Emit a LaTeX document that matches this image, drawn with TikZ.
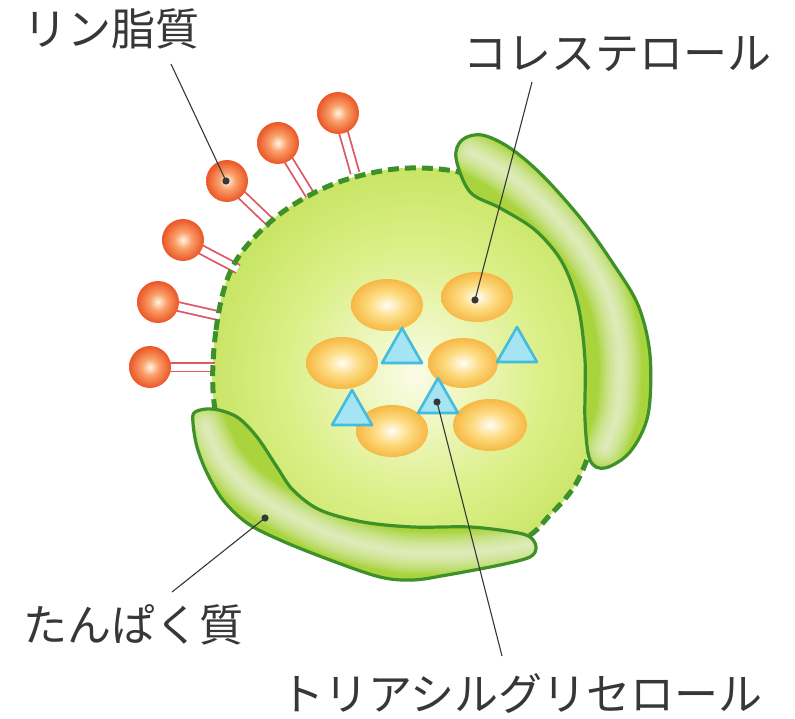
\documentclass[tikz,border=0pt]{standalone}
\usepackage{fontspec}
\newfontfamily\jpfont{Noto Sans CJK JP}

\definecolor{bodyA}{RGB}{250,252,230}
\definecolor{bodyB}{RGB}{220,239,135}
\definecolor{bodyC}{RGB}{178,218,64}
\definecolor{bodyD}{RGB}{163,207,50}
\definecolor{rim}{RGB}{62,145,40}
\definecolor{protfill}{RGB}{170,212,62}
\definecolor{dropA}{RGB}{255,253,245}
\definecolor{dropB}{RGB}{253,220,130}
\definecolor{dropC}{RGB}{244,170,44}
\definecolor{dropD}{RGB}{240,162,40}
\definecolor{ballA}{RGB}{255,246,230}
\definecolor{ballB}{RGB}{250,160,105}
\definecolor{ballC}{RGB}{236,90,42}
\definecolor{ballD}{RGB}{226,72,32}
\definecolor{tailred}{RGB}{222,88,100}
\definecolor{trifill}{RGB}{165,228,242}
\definecolor{triedge}{RGB}{70,188,220}
\definecolor{ink}{RGB}{55,55,55}

\pgfdeclareradialshading{bodyglow}{\pgfpoint{0bp}{0bp}}{color(0bp)=(bodyA); color(14bp)=(bodyB); color(32bp)=(bodyC); color(50bp)=(bodyD)}
\pgfdeclareradialshading{dropglow}{\pgfpoint{0bp}{0bp}}{color(0bp)=(dropA); color(12bp)=(dropB); color(30bp)=(dropC); color(50bp)=(dropD)}
\pgfdeclareradialshading{ballglow}{\pgfpoint{0bp}{0bp}}{color(0bp)=(ballA); color(10bp)=(ballB); color(24bp)=(ballC); color(50bp)=(ballD)}

% outlines of the particle core and the two apoproteins
\def\corepath{plot[smooth cycle, tension=0.6] coordinates {(214,402) (216,330) (232,268) (268,224) (310,195) (355,177) (410,168) (470,175) (530,205) (575,260) (593,340) (593,430) (578,480) (550,515) (520,540) (450,552) (360,540) (280,505) (232,460)}}
\def\rightprot{plot[smooth cycle, tension=0.55] coordinates {(456,158) (462,140) (482,135) (510,148) (543,176) (582,220) (612,262) (638,305) (650,355) (648,415) (630,452) (605,468) (590,460) (585,420) (585,360) (578,305) (562,262) (535,230) (500,208) (470,192)}}
\def\bottomprot{plot[smooth cycle, tension=0.55] coordinates {(195,412) (213,409) (237,417) (257,437) (277,467) (293,490) (320,510) (363,522) (413,527) (470,527) (513,532) (530,537) (536,547) (530,557) (500,565) (447,575) (413,580) (380,577) (330,560) (280,540) (247,523) (223,500) (207,473) (197,447) (193,423)}}

\begin{document}
\begin{tikzpicture}[x=1pt,y=-1pt,
  rimline/.style={draw=rim, line width=3.2pt, line join=round},
  membrane/.style={draw=rim, line width=5pt, dash pattern=on 11pt off 6pt},
  lipidtail/.style={draw=tailred, line width=1.8pt, double=white, double distance=7pt},
  lipidhead/.style={shading=ballglow},
  droplet/.style={shading=dropglow},
  tg/.style={fill=trifill, draw=triedge, line width=2.6pt, line join=round},
  leaderline/.style={draw=ink, line width=1.1pt},
  dotmark/.style={fill=ink},
  glowline/.style={draw=white, draw opacity=0.075, line cap=round, line join=round},
  lbl/.style={font=\jpfont\fontsize{44}{48}\selectfont, text=ink, inner sep=0pt, anchor=west},
  pics/tri/.style={code={\path[tg] (0,-23) -- (20,12) -- (-20,12) -- cycle;}}
]
\useasboundingbox[fill=white] (0,0) rectangle (795,719);

% core with soft glow
\fill[bodyD] \corepath;
\begin{scope}
  \clip \corepath;
  \shade[shading=bodyglow] (415,375) circle (230);
\end{scope}

% phospholipid tails
\foreach \hx/\hy/\ex/\ey in {338/113/355/173, 278/143/310/195, 227/181/272/224, 183/240/238/269, 158/302/220/316, 150/367/215/367}
  \draw[lipidtail] (\hx,\hy) -- (\ex,\ey);

% monolayer
\draw[membrane] \corepath;

% phospholipid heads
\foreach \hx/\hy in {338/113, 278/143, 227/181, 183/240, 158/302, 150/367}
  \shade[lipidhead] (\hx,\hy) circle (21);

% apoproteins
\fill[protfill] \rightprot;
\begin{scope}
  \clip \rightprot;
  \foreach \w in {42,39,...,3}
    \draw[glowline, line width=\w pt] plot[smooth] coordinates {(470,152) (505,172) (545,205) (582,248) (608,295) (620,350) (618,410) (605,448)};
\end{scope}
\draw[rimline] \rightprot;

\fill[protfill] \bottomprot;
\begin{scope}
  \clip \bottomprot;
  \foreach \w in {42,39,...,3}
    \draw[glowline, line width=\w pt] plot[smooth] coordinates {(205,425) (222,460) (250,490) (290,515) (340,538) (400,552) (460,553) (510,548) (528,545)};
\end{scope}
\draw[rimline] \bottomprot;

% cholesterol droplets
\foreach \cx/\cy/\rx/\ry in {387/305/36/26, 477/297/36/25, 342/363/36/26, 463/363/35/25, 392/431/36/26, 490/425/37/26}
  \shade[droplet] (\cx,\cy) ellipse [x radius=\rx, y radius=\ry];

% triacylglycerols
\pic at (402,351) {tri};
\pic at (517,350) {tri};
\pic at (352,413) {tri};
\pic at (438,401) {tri};

% labels
\node[lbl] (lipidLbl) at (23,29) {リン脂質};
\node[lbl] (cholLbl) at (463,54) {コレステロール};
\node[lbl] (protLbl) at (23,625) {たんぱく質};
\node[lbl] (tgLbl) at (280,694) {トリアシルグリセロール};

% leader end points
\coordinate (lipidLead) at (171,64);
\coordinate (lipidDot) at (226,181);
\coordinate (cholLead) at (532,82);
\coordinate (cholDot) at (475,300);
\coordinate (protLead) at (172,592);
\coordinate (protDot) at (265,518);
\coordinate (tgLead) at (502,656);
\coordinate (tgDot) at (437,402);

\draw[leaderline] (lipidLead) -- (lipidDot);
\draw[leaderline] (cholLead) -- (cholDot);
\draw[leaderline] (protLead) -- (protDot);
\draw[leaderline] (tgLead) -- (tgDot);
\foreach \p in {lipidDot, cholDot, protDot, tgDot}
  \fill[dotmark] (\p) circle (3.6);
\end{tikzpicture}
\end{document}
